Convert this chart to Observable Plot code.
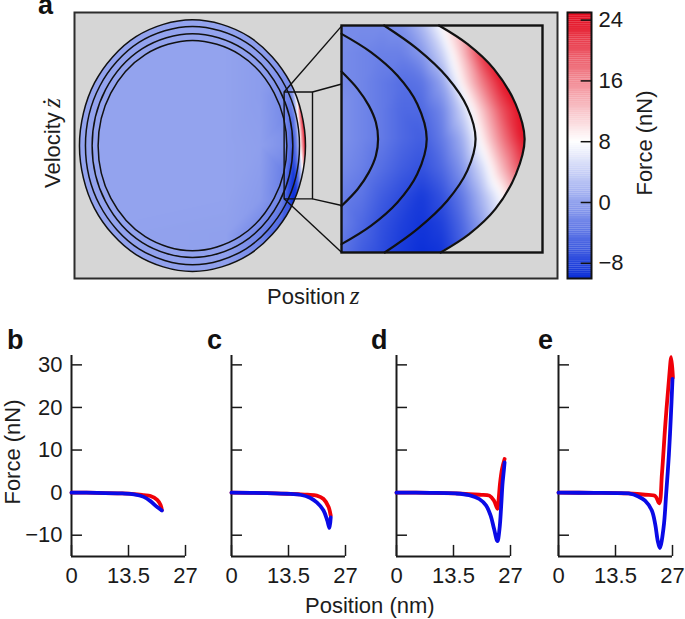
<!DOCTYPE html>
<html>
<head>
<meta charset="utf-8">
<script src="https://cdn.jsdelivr.net/npm/d3@7"></script>
<script src="https://cdn.jsdelivr.net/npm/@observablehq/plot@0.6"></script>
<style>
html,body{margin:0;padding:0;background:#fff;}
#page{position:relative;width:685px;height:619px;overflow:hidden;font-family:"Liberation Sans",Arial,sans-serif;color:#1d1d1d;}
#page svg{position:absolute;max-width:none;overflow:visible;background:transparent;}
.t{position:absolute;white-space:nowrap;line-height:1;font-size:22px;}
.l{position:absolute;white-space:nowrap;line-height:11px;font-size:27px;font-weight:bold;color:#111;}
.m{font-family:"Liberation Serif",serif;font-style:italic;font-size:25px;line-height:0;}
</style>
</head>
<body>
<div id="page"></div>
<script>
// ---------- panels b-e: position (nm) and force (nN)
const bRedZ=[0,6,12,14.8,17.1,18.7,20.3,21.1,21.4];
const bRedF=[0,-.05,-.2,-.35,-.6,-.8,-1.7,-2.9,-4.1];
const bBlueZ=[0,6,12,14.8,17.1,18.7,20.3,21.4];
const bBlueF=[0,-.05,-.2,-.4,-1,-2,-3.4,-4.2];
const cRedZ=[0,8.4,14,16.3,18,20.2,21.8,23,23.5];
const cRedF=[0,-.1,-.3,-.4,-.5,-.7,-1.5,-3.4,-5.4];
const cBlueZ=[0,8.4,14,16.3,18.6,20.2,21.8,22.7,23.2,23.5];
const cBlueF=[0,-.1,-.3,-.5,-1.2,-2.3,-4.2,-6.6,-8.3,-5.8];
const dRedZ=[0,8,14,17.2,19.6,22,23.1,23.9,24.2,24.5,25,25.6];
const dRedF=[0,-.05,-.2,-.35,-.5,-.7,-1.9,-3.8,-1.5,2,5.6,7.9];
const dBlueZ=[0,8,14,17.2,19.6,21.2,22.3,23.1,23.9,24.4,24.8,25.1,25.4,25.6];
const dBlueF=[0,-.05,-.2,-.6,-1.5,-3,-5.4,-8.5,-11.4,-8.5,-3,2,5,7.1];
const eRedZ=[0,8.5,14,16.6,20.5,22.9,23.85,24.5,25.3,26.2,26.7,27.1];
const eRedF=[0,-.05,-.1,-.2,-.5,-.8,-2.5,4.4,16,27,31.8,27];
const eBlueZ=[0,8.5,14,16.6,18.9,20.5,22.1,22.9,23.5,24,24.9,25.5,26.15,26.6,27];
const eBlueF=[0,-.05,-.1,-.2,-.9,-1.9,-4.2,-7.4,-11.3,-13,-8.1,-.3,9,17.7,26.7];
const positionTicks=[0,13.5,27];
const forceTicks=[-10,0,10,20,30];
const panelLetters=["b","c","d","e"];

// ---------- panel a: four orbits (position, velocity), normalised to the outer orbit
const orbit1Z=[1,.866,.5,0,-.5,-.866,-1,-.866,-.5,0,.5,.866];
const orbit1V=[0,.5,.866,1,.866,.5,0,-.5,-.866,-1,-.866,-.5];
const orbit2Z=[.947,.82,.474,0,-.474,-.82,-.947,-.82,-.474,0,.474,.82];
const orbit2V=[0,.474,.82,.947,.82,.474,0,-.474,-.82,-.947,-.82,-.474];
const orbit3Z=[.888,.769,.444,0,-.444,-.769,-.888,-.769,-.444,0,.444,.769];
const orbit3V=[0,.445,.771,.89,.771,.445,0,-.445,-.771,-.89,-.771,-.445];
const orbit4Z=[.835,.723,.418,0,-.418,-.723,-.835,-.723,-.418,0,.418,.723];
const orbit4V=[0,.418,.724,.836,.724,.418,0,-.418,-.724,-.836,-.724,-.418];

// ---------- inset of panel a: orbit arcs, in inset axes (0..1, -1..1)
const arc1X=[0,.081,.136,.171,.182,.171,.136,.081,0];
const arc1Y=[.594,.44,.294,.147,0,-.147,-.294,-.44,-.59];
const arc2X=[0,.146,.278,.377,.424,.377,.278,.146,0];
const arc2Y=[.926,.765,.559,.309,0,-.309,-.559,-.765,-.926];
const arc3X=[.212,.377,.526,.626,.667,.626,.526,.377,.215];
const arc3Y=[1,.794,.544,.279,0,-.279,-.544,-.794,-1];
const arc4X=[.485,.626,.758,.866,.911,.868,.765,.635,.493];
const arc4Y=[1,.838,.618,.309,0,-.309,-.618,-.838,-1];

// ---------- force field (nN)
const fieldX=[0,.1,.2,.3,.4,.5,.6,.7,.8,.9,1];
const fieldY=[1,.75,.5,.25,0,-.25,-.5,-.75,-1];
const fieldF=[
 [-2,-2,-2,-1.5,2,8,14,22,25,25,25],
 [-2,-2.5,-3,-3,-1,4,12,22,25,25,25],
 [-2,-2.5,-3.5,-4.5,-4,0,9,17,24,25,25],
 [-1.5,-2.5,-3.5,-5,-5,-2.5,4,12,20,25,25],
 [-1.5,-2.5,-3.5,-5,-6,-3.5,1,9,17,24,25],
 [-2,-3,-4.5,-6,-7,-5,-1,5,13,21,25],
 [-3,-4,-6,-7.5,-9,-7,-3.5,2,8,16,22],
 [-3,-5,-7,-8.5,-9.5,-8.5,-5,0,6,12,18],
 [-4,-6,-7.5,-9,-10,-9.5,-6,0,4,10,16]
];
// field around the zoomed window of the main plot
const farZ=[-1.05,.3,.6,.78];
const farV=[1.05,.7,.43,0,-.43,-.7,-1.05];
const farF=[
 [0,0,-.3,-.5],
 [0,0,-.5,-1],
 [0,0,-.5,-1.5],
 [0,0,-.3,-1.3],
 [0,0,-.7,-2.5],
 [0,-.2,-2.5,-6],
 [0,-.2,-2,-4]
];
const capZ=[.9,1.05];
const capV=[1.05,.7,-.7,-1.05];
const capF=[[-.5,0],[-1,-.5],[-6,-5],[-4,-4]];

// zoom window and connector ends, in main-plot units
const windowZ=[.811,1.062];
const windowV=[.426,-.423];
const insetEdgeZ=1.321;
const insetEdgeV=[.952,.49,-.476,-.849];

const colorbarTicks=[-8,0,8,16,24];
const colorStops={type:"linear",domain:[-10,8,25],range:["#0b2fd8","#ffffff","#e3081c"],interpolate:"rgb"};
const frameGray="#d6d6d6", ink="#1a1a1a", font='"Liberation Sans",Arial,sans-serif';

const page=document.getElementById("page");
const place=(svg,left,top)=>{svg.style.left=left+"px";svg.style.top=top+"px";page.appendChild(svg);};
const zip=(a,b)=>a.map((v,i)=>({x:v,y:b[i]}));
const text=(cls,html,css)=>{const d=document.createElement("div");d.className=cls;d.innerHTML=html;Object.assign(d.style,css);page.appendChild(d);};

// clip a raster to a closed orbit
function clipTo(points,id){
  return (index,scales,values,dims,ctx,next)=>{
    const g=next(index,scales,values,dims,ctx);
    const clip=d3.create("svg:clipPath").attr("id",id);
    clip.append("path").attr("d",d3.line().curve(d3.curveCatmullRomClosed)(points.map(p=>[scales.x(p.x),scales.y(p.y)])));
    g.insertBefore(clip.node(),g.firstChild);
    g.setAttribute("clip-path",`url(#${id})`);
    return g;
  };
}

// ---------- main plot
const orbits=[zip(orbit1Z,orbit1V),zip(orbit2Z,orbit2V),zip(orbit3Z,orbit3V),zip(orbit4Z,orbit4V)];
const mainSamples=[
  ...fieldY.flatMap((yv,r)=>fieldX.map((xv,c)=>({x:.81+xv*.209,y:yv*.426,f:fieldF[r][c]}))),
  ...farV.flatMap((v,r)=>farZ.map((z,c)=>({x:z,y:v,f:farF[r][c]}))),
  ...capV.flatMap((v,r)=>capZ.map((z,c)=>({x:z,y:v,f:capF[r][c]})))
];
const links=[
  {x1:windowZ[0],y1:windowV[0],x2:insetEdgeZ,y2:insetEdgeV[0]},
  {x1:windowZ[1],y1:windowV[0],x2:insetEdgeZ,y2:insetEdgeV[1]},
  {x1:windowZ[1],y1:windowV[1],x2:insetEdgeZ,y2:insetEdgeV[2]},
  {x1:windowZ[0],y1:windowV[1],x2:insetEdgeZ,y2:insetEdgeV[3]}
];
const windowBox=[[windowZ[0],windowV[0]],[windowZ[1],windowV[0]],[windowZ[1],windowV[1]],[windowZ[0],windowV[1]],[windowZ[0],windowV[0]]].map(([x,y])=>({x,y}));
place(Plot.plot({
  width:483,height:266,margin:0,
  x:{domain:[-1.044,3.23],axis:null},
  y:{domain:[-1.056,1.058],axis:null},
  color:colorStops,
  style:{background:"transparent",overflow:"visible"},
  marks:[
    Plot.frame({fill:frameGray}),
    Plot.raster(mainSamples,{x:"x",y:"y",fill:"f",interpolate:"barycentric",x1:-1.044,x2:1.1,y1:1.058,y2:-1.056,pixelSize:1,render:clipTo(orbits[0],"mainClip")}),
    ...orbits.map(o=>Plot.line(o,{x:"x",y:"y",curve:"catmull-rom-closed",stroke:"#111",strokeWidth:1.5})),
    Plot.line(windowBox,{x:"x",y:"y",stroke:"#111",strokeWidth:1.4}),
    Plot.link(links,{x1:"x1",y1:"y1",x2:"x2",y2:"y2",stroke:"#111",strokeWidth:1.4}),
    Plot.frame({stroke:"#2c2c2c",strokeWidth:2})
  ]
}),74,12);

// ---------- inset
const insetSamples=fieldY.flatMap((yv,r)=>fieldX.map((xv,c)=>({x:xv,y:yv,f:fieldF[r][c]})));
const arcs=[zip(arc1X,arc1Y),zip(arc2X,arc2Y),zip(arc3X,arc3Y),zip(arc4X,arc4Y)];
place(Plot.plot({
  width:201,height:227,margin:0,
  x:{domain:[0,1],axis:null},
  y:{domain:[-1,1],axis:null},
  color:colorStops,
  style:{background:"transparent",overflow:"visible"},
  marks:[
    Plot.raster(insetSamples,{x:"x",y:"y",fill:"f",interpolate:"barycentric",x1:0,x2:1,y1:1,y2:-1,pixelSize:1,blur:3}),
    Plot.areaX(arcs[3],{x1:"x",x2:()=>1,y:"y",fill:frameGray,curve:"catmull-rom"}),
    ...arcs.map(a=>Plot.line(a,{x:"x",y:"y",curve:"catmull-rom",stroke:"#111",strokeWidth:2.2})),
    Plot.frame({stroke:"#111",strokeWidth:2.4})
  ]
}),341,25);

// ---------- colourbar
const barSteps=d3.range(-10,25,.25);
place(Plot.plot({
  width:24,height:266,margin:0,
  x:{domain:[0,1],axis:null},
  y:{domain:[-10,25],axis:null},
  color:colorStops,
  style:{background:"transparent",overflow:"visible"},
  marks:[
    Plot.rect(barSteps,{x1:0,x2:1,y1:d=>d,y2:d=>d+.27,fill:d=>d+.125}),
    Plot.ruleY(colorbarTicks,{x1:.57,x2:1,stroke:"#111",strokeWidth:1.5}),
    Plot.axisY(colorbarTicks,{anchor:"right",tickSize:0,tickPadding:7,fontSize:22,fontFamily:font,fill:ink,label:null}),
    Plot.frame({stroke:"#111",strokeWidth:2})
  ]
}),566.5,12);

// ---------- panels b-e
const series={
  b:[zip(bRedZ,bRedF),zip(bBlueZ,bBlueF)],
  c:[zip(cRedZ,cRedF),zip(cBlueZ,cBlueF)],
  d:[zip(dRedZ,dRedF),zip(dBlueZ,dBlueF)],
  e:[zip(eRedZ,eRedF),zip(eBlueZ,eBlueF)]
};
const origins={b:71,c:231.3,d:395.7,e:558.3};
panelLetters.forEach(k=>{
  const first=k==="b";
  place(Plot.plot({
    width:194,height:256,marginLeft:60,marginRight:20,marginTop:15,marginBottom:40,
    x:{domain:[0,27],axis:null},
    y:{domain:[-15,32.2],axis:null},
    style:{background:"transparent",overflow:"visible"},
    marks:[
      Plot.ruleY([-15],{stroke:ink,strokeWidth:2}),
      Plot.ruleX([0],{stroke:ink,strokeWidth:2}),
      Plot.ruleX(positionTicks,{y1:-15,y2:-12.4,stroke:ink,strokeWidth:1.5}),
      Plot.ruleY(forceTicks,{x1:0,x2:2.6,stroke:ink,strokeWidth:1.5}),
      Plot.axisX(positionTicks,{anchor:"bottom",tickSize:0,tickPadding:11,fontSize:22,fontFamily:font,fill:ink,label:null,tickFormat:d=>String(d)}),
      ...(first?[Plot.axisY(forceTicks,{anchor:"left",tickSize:0,tickPadding:9,fontSize:22,fontFamily:font,fill:ink,label:null})]:[]),
      Plot.line(series[k][0],{x:"x",y:"y",stroke:"#f00008",strokeWidth:3.8,curve:"catmull-rom",strokeLinecap:"round"}),
      Plot.line(series[k][1],{x:"x",y:"y",stroke:"#0a0ae6",strokeWidth:3.8,curve:"catmull-rom",strokeLinecap:"round"})
    ]
  }),origins[k]-60,340);
});

// ---------- labels
text("l","a",{left:"38px",top:"0px"});
text("l","b",{left:"7px",top:"335px"});
text("l","c",{left:"207px",top:"335px"});
text("l","d",{left:"371px",top:"335px"});
text("l","e",{left:"538px",top:"335px"});
text("t",'Position&#8201;<span class="m">z</span>',{left:"267px",top:"286px"});
text("t","Position (nm)",{left:"305px",top:"595px"});
text("t",'Velocity&#8201;<span class="m">ż</span>',{left:"53px",top:"143px",transform:"translate(-50%,-50%) rotate(-90deg)"});
text("t","Force (nN)",{left:"13px",top:"452px",transform:"translate(-50%,-50%) rotate(-90deg)"});
text("t","Force (nN)",{left:"645px",top:"143px",transform:"translate(-50%,-50%) rotate(-90deg)"});
</script>
</body>
</html>
